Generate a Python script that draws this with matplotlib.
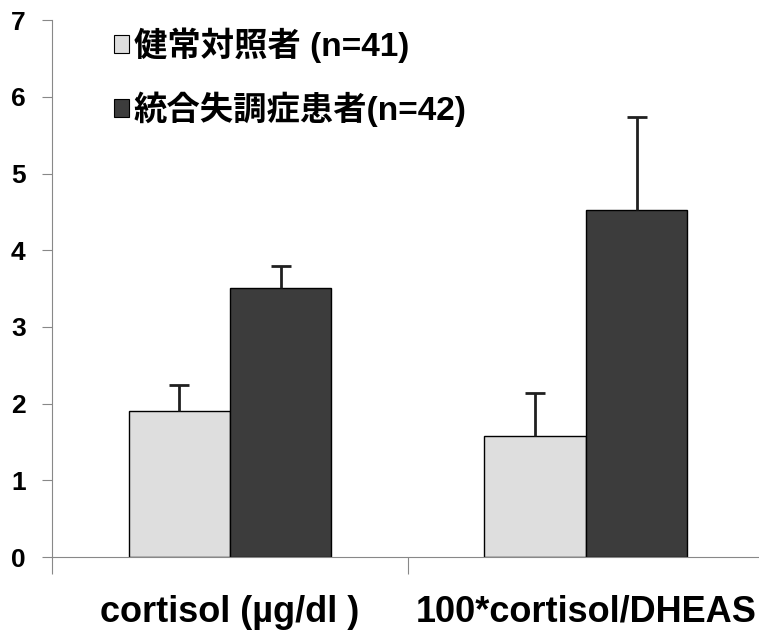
import matplotlib.pyplot as plt
import numpy as np
from matplotlib.patches import Patch

plt.rcParams['font.family'] = ['Liberation Sans', 'Noto Sans CJK JP', 'DejaVu Sans']

# data
categories = ["cortisol (µg/dl )", "100*cortisol/DHEAS"]
series_names = ["健常対照者 (n=41)", "統合失調症患者(n=42)"]
control_means = [1.90, 1.58]
control_err = [0.34, 0.56]
patient_means = [3.51, 4.52]
patient_err = [0.28, 1.22]
colors = ["#dedede", "#3c3c3c"]

fig = plt.figure(figsize=(7.59, 6.33), dpi=100)
ax = fig.add_axes([0.0685, 0.12, 0.938, 0.848])

x = np.arange(len(categories))
width = 0.285

ax.bar(x - width / 2, control_means, width, color=colors[0], edgecolor="black", linewidth=1.0, zorder=2)
ax.bar(x + width / 2, patient_means, width, color=colors[1], edgecolor="black", linewidth=1.0, zorder=2)

# only the upper half of the error bars is drawn
for pos, means, err in [(x - width / 2, control_means, control_err),
                        (x + width / 2, patient_means, patient_err)]:
    eb = ax.errorbar(pos, means, yerr=[np.zeros(2), err], fmt="none",
                     ecolor="#202020", elinewidth=2, capsize=7, capthick=2, zorder=3)
    eb[1][0].set_visible(False)  # hide the lower cap sitting on the bar top

ax.set_xlim(-0.5, 1.5)
ax.set_ylim(0, 7)
ax.set_yticks(range(8))
ax.set_yticklabels([str(i) for i in range(8)], fontsize=19, fontweight="bold")

ax.set_xticks([-0.5, 0.5, 1.5])
ax.set_xticklabels([])
ax.set_xticks(x, minor=True)
ax.set_xticklabels(categories, minor=True, fontsize=26, fontweight="bold")
ax.tick_params(axis="x", which="minor", length=0, pad=27)
ax.tick_params(axis="x", which="major", length=12, width=0.8, color="#888888")
ax.tick_params(axis="y", length=7, width=0.8, color="#888888", pad=12)

for side in ["top", "right"]:
    ax.spines[side].set_visible(False)
for side in ["left", "bottom"]:
    ax.spines[side].set_color("#888888")
    ax.spines[side].set_linewidth(0.8)

handles = [Patch(facecolor=colors[0], edgecolor="black", linewidth=0.8),
           Patch(facecolor=colors[1], edgecolor="black", linewidth=0.8)]
ax.legend(handles, series_names, loc="upper left", bbox_to_anchor=(0.068, 1.012),
          borderaxespad=0, frameon=False, handlelength=0.45, handleheight=0.45,
          handletextpad=0.15, labelspacing=0.85, prop={"size": 24, "weight": "bold"})

plt.savefig("out.png", dpi=100)
